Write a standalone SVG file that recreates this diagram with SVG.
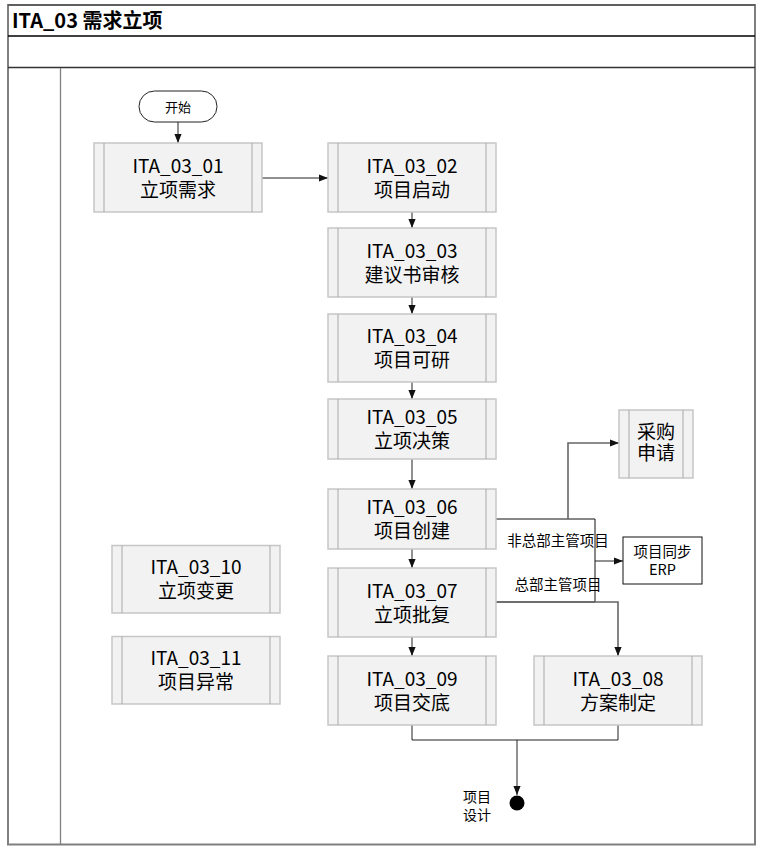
<svg xmlns="http://www.w3.org/2000/svg" width="757" height="847" viewBox="0 0 757 847">
<style>
.bx{fill:#f2f2f2;stroke:#c6c6c6;stroke-width:1.5}
.bar{stroke:#a8a8a8;stroke-width:1}
.t{font-family:"Noto Sans CJK SC","Noto Sans",sans-serif;fill:#000;text-anchor:middle}
.big{font-size:19px}
.sm{font-size:14.5px}
.c{fill:none;stroke:#222;stroke-width:1}
.g{fill:none;stroke:#666;stroke-width:1.6}
</style>
<defs>
<marker id="a" viewBox="0 0 10 10" refX="10" refY="5" markerWidth="9" markerHeight="9" markerUnits="userSpaceOnUse" orient="auto">
<path d="M0,1 L10,5 L0,9 Z" fill="#111"/>
</marker>
</defs>
<rect width="757" height="847" fill="#fff"/>
<g id="frame">
<rect x="8" y="5" width="747" height="839.5" fill="none" stroke="#7f7f7f" stroke-width="2"/>
<line x1="8" y1="36" x2="755" y2="36" stroke="#000" stroke-width="1.3"/>
<line x1="8" y1="67.5" x2="755" y2="67.5" stroke="#333" stroke-width="1.3"/>
<line x1="60.5" y1="68" x2="60.5" y2="844" stroke="#808080" stroke-width="1.3"/>
<line x1="8" y1="5" x2="755" y2="5" stroke="#555" stroke-width="1.3"/>
<text x="12" y="27.5" style="font-family:'Noto Sans CJK SC','Noto Sans',sans-serif;font-size:20px;font-weight:bold">ITA_03 需求立项</text>
</g>
<g id="decision">
<path d="M496,519 H595 V602 H496" fill="#fff" stroke="#111" stroke-width="1"/>
<text class="t sm" x="558" y="546">非总部主管项目</text>
<text class="t sm" x="558" y="590">总部主管项目</text>
</g>
<g id="connectors">
<path class="c" d="M178,122 V143" marker-end="url(#a)"/>
<path class="c" d="M262,178 H328" marker-end="url(#a)"/>
<path class="c" d="M412,212 V228" marker-end="url(#a)"/>
<path class="c" d="M412,297 V314" marker-end="url(#a)"/>
<path class="c" d="M412,382 V399" marker-end="url(#a)"/>
<path class="c" d="M412,459 V489" marker-end="url(#a)"/>
<path class="c" d="M412,549 V568" marker-end="url(#a)"/>
<path class="c" d="M412,637 V656" marker-end="url(#a)"/>
<path class="g" d="M568,519 V443 H619" marker-end="url(#a)"/>
<path class="c" d="M595,561 H623" marker-end="url(#a)"/>
<path class="g" d="M496,602 H618 V656" marker-end="url(#a)"/>
<path class="c" d="M412,725 V740 H618 V725"/>
<path class="c" d="M517,740 V795" marker-end="url(#a)"/>
</g>
<g id="start">
<rect x="139" y="91" width="78" height="31" rx="15.5" fill="#fff" stroke="#222" stroke-width="1"/>
<text class="t" x="178" y="111.5" style="font-size:13px">开始</text>
</g>
<g id="n01">
<rect class="bx" x="94" y="143" width="168" height="69"/>
<line class="bar" x1="104" y1="143" x2="104" y2="212"/><line class="bar" x1="252" y1="143" x2="252" y2="212"/>
<text class="t big" x="178" y="172.5">ITA_03_01<tspan x="178" dy="24">立项需求</tspan></text>
</g>
<g id="n02">
<rect class="bx" x="328" y="143" width="168" height="69"/>
<line class="bar" x1="338" y1="143" x2="338" y2="212"/><line class="bar" x1="486" y1="143" x2="486" y2="212"/>
<text class="t big" x="412" y="172.5">ITA_03_02<tspan x="412" dy="24">项目启动</tspan></text>
</g>
<g id="n03">
<rect class="bx" x="328" y="228" width="168" height="69"/>
<line class="bar" x1="338" y1="228" x2="338" y2="297"/><line class="bar" x1="486" y1="228" x2="486" y2="297"/>
<text class="t big" x="412" y="257.5">ITA_03_03<tspan x="412" dy="24">建议书审核</tspan></text>
</g>
<g id="n04">
<rect class="bx" x="328" y="314" width="168" height="68"/>
<line class="bar" x1="338" y1="314" x2="338" y2="382"/><line class="bar" x1="486" y1="314" x2="486" y2="382"/>
<text class="t big" x="412" y="343">ITA_03_04<tspan x="412" dy="24">项目可研</tspan></text>
</g>
<g id="n05">
<rect class="bx" x="328" y="399" width="168" height="60"/>
<line class="bar" x1="338" y1="399" x2="338" y2="459"/><line class="bar" x1="486" y1="399" x2="486" y2="459"/>
<text class="t big" x="412" y="424">ITA_03_05<tspan x="412" dy="24">立项决策</tspan></text>
</g>
<g id="n06">
<rect class="bx" x="328" y="489" width="168" height="60"/>
<line class="bar" x1="338" y1="489" x2="338" y2="549"/><line class="bar" x1="486" y1="489" x2="486" y2="549"/>
<text class="t big" x="412" y="514">ITA_03_06<tspan x="412" dy="24">项目创建</tspan></text>
</g>
<g id="n07">
<rect class="bx" x="328" y="568" width="168" height="69"/>
<line class="bar" x1="338" y1="568" x2="338" y2="637"/><line class="bar" x1="486" y1="568" x2="486" y2="637"/>
<text class="t big" x="412" y="597.5">ITA_03_07<tspan x="412" dy="24">立项批复</tspan></text>
</g>
<g id="n09">
<rect class="bx" x="328" y="656" width="168" height="69"/>
<line class="bar" x1="338" y1="656" x2="338" y2="725"/><line class="bar" x1="486" y1="656" x2="486" y2="725"/>
<text class="t big" x="412" y="685.5">ITA_03_09<tspan x="412" dy="24">项目交底</tspan></text>
</g>
<g id="n08">
<rect class="bx" x="534" y="656" width="168" height="69"/>
<line class="bar" x1="544" y1="656" x2="544" y2="725"/><line class="bar" x1="692" y1="656" x2="692" y2="725"/>
<text class="t big" x="618" y="685.5">ITA_03_08<tspan x="618" dy="24">方案制定</tspan></text>
</g>
<g id="n10">
<rect class="bx" x="112" y="545.5" width="168" height="67.5"/>
<line class="bar" x1="122" y1="545.5" x2="122" y2="613"/><line class="bar" x1="270" y1="545.5" x2="270" y2="613"/>
<text class="t big" x="196" y="574">ITA_03_10<tspan x="196" dy="24">立项变更</tspan></text>
</g>
<g id="n11">
<rect class="bx" x="112" y="636.5" width="168" height="67.5"/>
<line class="bar" x1="122" y1="636.5" x2="122" y2="704"/><line class="bar" x1="270" y1="636.5" x2="270" y2="704"/>
<text class="t big" x="196" y="665">ITA_03_11<tspan x="196" dy="24">项目异常</tspan></text>
</g>
<g id="purchase">
<rect class="bx" x="619" y="410" width="74" height="68"/>
<line class="bar" x1="629" y1="410" x2="629" y2="478"/><line class="bar" x1="683" y1="410" x2="683" y2="478"/>
<text class="t big" x="656" y="439">采购<tspan x="656" dy="21">申请</tspan></text>
</g>
<g id="erp">
<rect x="623" y="537" width="79" height="47" fill="#fff" stroke="#111" stroke-width="1"/>
<text class="t sm" x="662.5" y="557">项目同步<tspan x="662.5" dy="18">ERP</tspan></text>
</g>
<g id="end">
<circle cx="517" cy="803" r="7.5" fill="#000"/>
<text class="t" x="477" y="802" style="font-size:14px">项目<tspan x="477" dy="18">设计</tspan></text>
</g>
</svg>
